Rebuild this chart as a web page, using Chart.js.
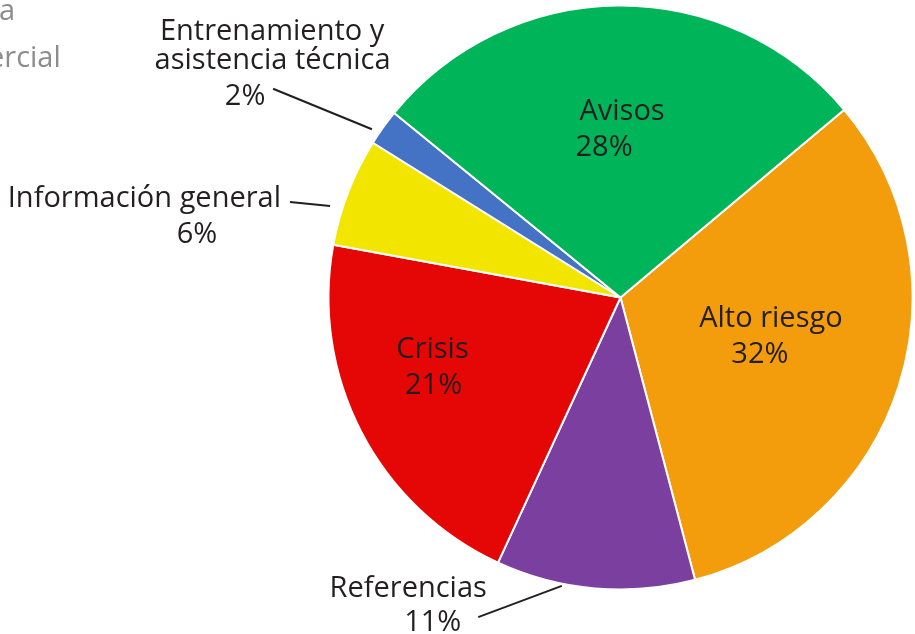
<!DOCTYPE html>
<html>
<head>
<meta charset="utf-8">
<script src="https://cdn.jsdelivr.net/npm/chart.js@4.4.0/dist/chart.umd.min.js"></script>
<style>
  html, body { margin: 0; padding: 0; background: #fff; overflow: hidden; }
  #wrap { width: 915px; height: 634px; position: relative; }
</style>
</head>
<body>
<div id="wrap"><canvas id="pieChart"></canvas></div>
<script>
// data
const categories = ['Alto riesgo', 'Referencias', 'Crisis', 'Información general', 'Entrenamiento y asistencia técnica', 'Avisos'];
const shares = [32, 11, 21, 6, 2, 28];
const labelLines = [['Alto riesgo'], ['Referencias'], ['Crisis'], ['Información general'], ['Entrenamiento y', 'asistencia técnica'], ['Avisos']];
const legendScraps = ['a', 'ercial'];   // cut-off legend text at top left

const sliceColors = ['#f39c0c', '#7b3fa0', '#e50606', '#f2e500', '#4472c4', '#00b45a'];
const INK = '#231f20';
const FONT = '29px "Open Sans", sans-serif';

// label placement, relative to each slice (angle offset in deg, radius as fraction of the pie radius)
const labelSpots = [
    { inside: true, r: 0.525, da: -6.5, dx2: -11 },
    { inside: false, from: [6.5, 1.008], to: [19, 1.198], text: [[-70, -20, 'center'], [-45.5, 14, 'center']] },
    { inside: true, r: 0.676, da: 9.6, dx2: 1 },
    { inside: false, from: [-3.7, 1.043], to: [-5.1, 1.178], text: [[-9, 5, 'right'], [-93, 41, 'center']] },
    { inside: false, from: [-1.5, 1.028], to: [-4.6, 1.388], text: [[-1, -49, 'center'], [-0.5, -20, 'center'], [-28, 16, 'center']] },
    { inside: true, r: 0.608, da: 0.9, dx2: -18 }
];

document.addEventListener('DOMContentLoaded', () => {
    drawPie();
});

const sliceLabels = {
    id: 'sliceLabels',
    afterDraw(chart) {
        const ctx = chart.ctx;
        const meta = chart.getDatasetMeta(0);
        ctx.save();
        ctx.font = FONT;
        ctx.fillStyle = INK;
        ctx.strokeStyle = INK;
        ctx.lineWidth = 2;
        ctx.textBaseline = 'alphabetic';

        meta.data.forEach((arc, i) => {
            const p = arc.getProps(['x', 'y', 'startAngle', 'endAngle', 'outerRadius'], true);
            const mid = (p.startAngle + p.endAngle) / 2;
            const spot = labelSpots[i];
            const polar = (da, r) => {
                const a = mid + da * Math.PI / 180;
                return [p.x + Math.cos(a) * r * p.outerRadius, p.y + Math.sin(a) * r * p.outerRadius];
            };
            const lines = labelLines[i].concat([shares[i] + '%']);

            if (spot.inside) {
                const [ax, ay] = polar(spot.da, spot.r);
                ctx.textAlign = 'center';
                ctx.fillText(lines[0], ax, ay);
                ctx.fillText(lines[1], ax + spot.dx2, ay + 36);
            } else {
                const [sx, sy] = polar(spot.from[0], spot.from[1]);
                const [ex, ey] = polar(spot.to[0], spot.to[1]);
                ctx.beginPath();
                ctx.moveTo(sx, sy);
                ctx.lineTo(ex, ey);
                ctx.stroke();
                lines.forEach((t, k) => {
                    const [dx, dy, align] = spot.text[k];
                    ctx.textAlign = align;
                    ctx.fillText(t, ex + dx, ey + dy);
                });
            }
        });

        // leftover legend text, cut at the left edge
        ctx.fillStyle = '#8c8c8c';
        ctx.textAlign = 'left';
        ctx.fillText(legendScraps[0], -1, 20);
        ctx.fillText(legendScraps[1], -12, 67);
        ctx.restore();
    }
};

function drawPie() {
    const el = document.getElementById('pieChart');
    if (!el || !window.Chart) return;
    new Chart(el, {
        type: 'pie',
        data: {
            labels: categories,
            datasets: [{
                data: shares,
                backgroundColor: sliceColors,
                borderColor: '#ffffff',
                borderWidth: 2
            }]
        },
        options: {
            responsive: true,
            maintainAspectRatio: false,
            animation: false,
            rotation: 50,
            layout: { padding: { left: 327.5, right: 1.5, top: 4.5, bottom: 43.5 } },
            plugins: { legend: { display: false }, tooltip: { enabled: false } }
        },
        plugins: [sliceLabels]
    });
}
</script>
</body>
</html>
